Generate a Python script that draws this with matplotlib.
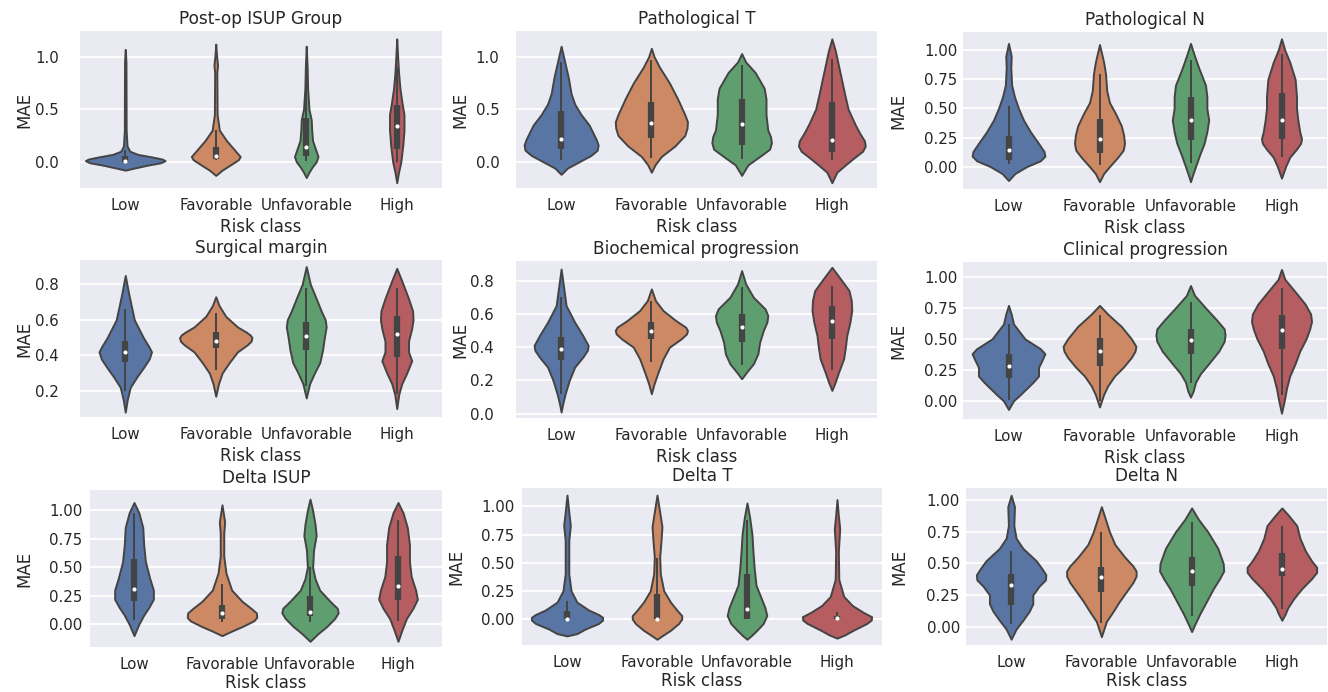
import matplotlib
matplotlib.use('Agg')
import matplotlib.pyplot as plt
from matplotlib.ticker import MultipleLocator

classes = ['Low', 'Favorable', 'Unfavorable', 'High']
titles = ['Post-op ISUP Group', 'Pathological T', 'Pathological N',
          'Surgical margin', 'Biochemical progression', 'Clinical progression',
          'Delta ISUP', 'Delta T', 'Delta N']

# violin outlines per risk class, as (MAE, half width) pairs
isup_shapes = [
    [(-0.08, 0), (-0.06, 0.10), (-0.03, 0.26), (-0.01, 0.39), (0.01, 0.44), (0.025, 0.41), (0.045, 0.30),
     (0.07, 0.14), (0.1, 0.05), (0.15, 0.02), (0.3, 0.01), (0.95, 0.008), (1.07, 0)],
    [(-0.13, 0), (-0.08, 0.07), (-0.02, 0.18), (0.02, 0.25), (0.05, 0.27), (0.1, 0.22), (0.2, 0.12),
     (0.3, 0.04), (0.45, 0.015), (0.85, 0.012), (0.92, 0.02), (1.0, 0.01), (1.12, 0)],
    [(-0.15, 0), (-0.1, 0.03), (-0.05, 0.066), (0.0, 0.11), (0.05, 0.13), (0.1, 0.11), (0.2, 0.07),
     (0.3, 0.06), (0.4, 0.055), (0.5, 0.03), (0.7, 0.015), (0.9, 0.01), (1.1, 0)],
    [(-0.2, 0), (-0.1, 0.02), (0.0, 0.045), (0.15, 0.066), (0.3, 0.08), (0.45, 0.08), (0.55, 0.06),
     (0.7, 0.035), (0.85, 0.02), (1.0, 0.01), (1.17, 0)],
]
patt_shapes = [
    [(-0.12, 0), (-0.06, 0.07), (0.0, 0.2), (0.06, 0.33), (0.11, 0.40), (0.16, 0.41), (0.21, 0.39),
     (0.28, 0.35), (0.35, 0.31), (0.45, 0.22), (0.55, 0.15), (0.65, 0.11), (0.8, 0.08), (0.95, 0.04),
     (1.1, 0)],
    [(-0.1, 0), (-0.03, 0.04), (0.05, 0.11), (0.15, 0.26), (0.25, 0.37), (0.32, 0.395), (0.38, 0.40),
     (0.45, 0.37), (0.6, 0.29), (0.75, 0.2), (0.9, 0.09), (1.0, 0.03), (1.08, 0)],
    [(-0.13, 0), (-0.03, 0.07), (0.05, 0.2), (0.12, 0.31), (0.18, 0.33), (0.24, 0.32), (0.3, 0.29),
     (0.45, 0.27), (0.6, 0.27), (0.7, 0.25), (0.85, 0.15), (0.95, 0.045), (1.03, 0)],
    [(-0.2, 0), (-0.1, 0.055), (-0.03, 0.15), (0.04, 0.25), (0.1, 0.34), (0.15, 0.37), (0.2, 0.36),
     (0.27, 0.31), (0.35, 0.26), (0.5, 0.18), (0.65, 0.14), (0.85, 0.09), (1.05, 0.04), (1.17, 0)],
]
patn_shapes = [
    [(-0.12, 0), (-0.06, 0.07), (0.0, 0.2), (0.05, 0.35), (0.09, 0.40), (0.13, 0.39), (0.2, 0.33),
     (0.3, 0.24), (0.4, 0.165), (0.5, 0.11), (0.6, 0.066), (0.7, 0.035), (0.85, 0.025), (0.95, 0.03),
     (1.06, 0)],
    [(-0.13, 0), (-0.06, 0.045), (0.0, 0.11), (0.08, 0.2), (0.14, 0.26), (0.2, 0.275), (0.27, 0.265),
     (0.35, 0.24), (0.45, 0.18), (0.55, 0.11), (0.65, 0.08), (0.8, 0.066), (0.9, 0.045), (1.05, 0)],
    [(-0.13, 0), (-0.08, 0.02), (0.0, 0.055), (0.1, 0.1), (0.2, 0.15), (0.3, 0.18), (0.4, 0.2),
     (0.5, 0.18), (0.6, 0.18), (0.7, 0.165), (0.85, 0.09), (0.95, 0.045), (1.06, 0)],
    [(-0.1, 0), (0.0, 0.045), (0.08, 0.09), (0.15, 0.165), (0.2, 0.21), (0.24, 0.22), (0.3, 0.2),
     (0.4, 0.18), (0.5, 0.165), (0.6, 0.165), (0.75, 0.15), (0.9, 0.09), (1.0, 0.037), (1.1, 0)],
]
margin_shapes = [
    [(0.08, 0), (0.15, 0.022), (0.22, 0.055), (0.28, 0.13), (0.33, 0.2), (0.38, 0.265), (0.42, 0.29),
     (0.45, 0.26), (0.5, 0.2), (0.55, 0.15), (0.6, 0.1), (0.68, 0.066), (0.75, 0.037), (0.85, 0)],
    [(0.17, 0), (0.24, 0.03), (0.3, 0.07), (0.36, 0.15), (0.42, 0.24), (0.46, 0.35), (0.48, 0.39),
     (0.5, 0.40), (0.515, 0.38), (0.53, 0.34), (0.56, 0.24), (0.62, 0.11), (0.68, 0.037), (0.73, 0)],
    [(0.16, 0), (0.24, 0.037), (0.3, 0.09), (0.36, 0.15), (0.43, 0.18), (0.5, 0.2), (0.56, 0.22),
     (0.6, 0.21), (0.65, 0.165), (0.72, 0.11), (0.8, 0.045), (0.9, 0)],
    [(0.1, 0), (0.18, 0.022), (0.24, 0.055), (0.3, 0.11), (0.37, 0.165), (0.42, 0.13), (0.48, 0.13),
     (0.55, 0.165), (0.6, 0.18), (0.65, 0.175), (0.72, 0.13), (0.82, 0.055), (0.89, 0)],
]
bcr_shapes = [
    [(0.01, 0), (0.06, 0.018), (0.12, 0.045), (0.2, 0.09), (0.28, 0.15), (0.34, 0.24), (0.38, 0.29),
     (0.41, 0.30), (0.47, 0.24), (0.55, 0.15), (0.65, 0.055), (0.75, 0.03), (0.87, 0)],
    [(0.12, 0), (0.18, 0.03), (0.25, 0.075), (0.33, 0.13), (0.4, 0.2), (0.45, 0.33), (0.48, 0.39),
     (0.5, 0.40), (0.52, 0.38), (0.56, 0.27), (0.62, 0.13), (0.68, 0.045), (0.75, 0)],
    [(0.21, 0), (0.25, 0.055), (0.3, 0.13), (0.36, 0.18), (0.43, 0.2), (0.5, 0.24), (0.55, 0.28),
     (0.59, 0.29), (0.63, 0.26), (0.7, 0.13), (0.78, 0.045), (0.86, 0)],
    [(0.14, 0), (0.19, 0.037), (0.25, 0.075), (0.33, 0.13), (0.4, 0.15), (0.47, 0.165), (0.55, 0.2),
     (0.62, 0.22), (0.68, 0.215), (0.74, 0.19), (0.8, 0.11), (0.88, 0)],
]
clin_shapes = [
    [(-0.07, 0), (0.0, 0.055), (0.05, 0.13), (0.1, 0.2), (0.15, 0.27), (0.2, 0.33), (0.27, 0.33),
     (0.33, 0.37), (0.38, 0.40), (0.42, 0.35), (0.5, 0.18), (0.62, 0.055), (0.7, 0.03), (0.77, 0)],
    [(-0.05, 0), (0.05, 0.045), (0.12, 0.09), (0.2, 0.165), (0.27, 0.26), (0.35, 0.35), (0.4, 0.39),
     (0.44, 0.40), (0.5, 0.35), (0.6, 0.24), (0.7, 0.09), (0.77, 0)],
    [(0.03, 0), (0.08, 0.03), (0.15, 0.055), (0.22, 0.11), (0.3, 0.2), (0.4, 0.31), (0.48, 0.37),
     (0.53, 0.38), (0.58, 0.37), (0.65, 0.29), (0.75, 0.165), (0.85, 0.045), (0.93, 0)],
    [(-0.1, 0), (0.0, 0.03), (0.1, 0.055), (0.2, 0.09), (0.3, 0.15), (0.4, 0.2), (0.5, 0.27),
     (0.58, 0.31), (0.64, 0.33), (0.7, 0.32), (0.78, 0.26), (0.88, 0.15), (0.98, 0.037), (1.06, 0)],
]
disup_shapes = [
    [(-0.1, 0), (0.0, 0.055), (0.08, 0.11), (0.15, 0.17), (0.22, 0.22), (0.3, 0.22), (0.4, 0.18),
     (0.55, 0.13), (0.7, 0.11), (0.85, 0.1), (0.98, 0.055), (1.07, 0)],
    [(-0.1, 0), (-0.06, 0.11), (-0.02, 0.23), (0.03, 0.36), (0.06, 0.395), (0.1, 0.39), (0.14, 0.33),
     (0.2, 0.23), (0.3, 0.11), (0.45, 0.045), (0.6, 0.02), (0.8, 0.02), (0.9, 0.03), (1.05, 0)],
    [(-0.15, 0), (-0.08, 0.095), (-0.02, 0.19), (0.05, 0.28), (0.1, 0.32), (0.14, 0.31), (0.2, 0.23),
     (0.3, 0.11), (0.4, 0.057), (0.5, 0.03), (0.65, 0.04), (0.78, 0.07), (0.88, 0.057), (1.0, 0.03),
     (1.1, 0)],
    [(-0.15, 0), (-0.05, 0.045), (0.05, 0.095), (0.14, 0.17), (0.22, 0.22), (0.3, 0.2), (0.42, 0.15),
     (0.55, 0.13), (0.7, 0.13), (0.85, 0.106), (0.98, 0.057), (1.07, 0)],
]
dt_shapes = [
    [(-0.15, 0), (-0.13, 0.11), (-0.09, 0.2), (-0.04, 0.35), (-0.01, 0.395), (0.015, 0.395), (0.04, 0.35),
     (0.08, 0.24), (0.15, 0.11), (0.25, 0.045), (0.4, 0.02), (0.7, 0.02), (0.83, 0.037), (0.95, 0.02),
     (1.1, 0)],
    [(-0.18, 0), (-0.15, 0.055), (-0.1, 0.15), (-0.04, 0.24), (0.0, 0.275), (0.03, 0.275), (0.08, 0.22),
     (0.15, 0.15), (0.25, 0.075), (0.4, 0.037), (0.55, 0.03), (0.7, 0.045), (0.82, 0.055), (0.95, 0.03),
     (1.1, 0)],
    [(-0.18, 0), (-0.15, 0.045), (-0.1, 0.11), (-0.04, 0.18), (0.03, 0.22), (0.1, 0.2), (0.2, 0.15),
     (0.3, 0.1), (0.45, 0.08), (0.6, 0.066), (0.75, 0.055), (0.9, 0.03), (1.03, 0)],
    [(-0.17, 0), (-0.14, 0.09), (-0.1, 0.18), (-0.04, 0.33), (-0.01, 0.38), (0.02, 0.385), (0.06, 0.29),
     (0.12, 0.17), (0.2, 0.075), (0.35, 0.02), (0.6, 0.015), (0.8, 0.03), (0.92, 0.015), (1.06, 0)],
]
dn_shapes = [
    [(-0.1, 0), (-0.02, 0.055), (0.05, 0.13), (0.12, 0.2), (0.18, 0.24), (0.25, 0.24), (0.32, 0.31),
     (0.37, 0.38), (0.41, 0.385), (0.45, 0.35), (0.52, 0.28), (0.62, 0.13), (0.7, 0.055), (0.8, 0.03),
     (0.95, 0.037), (1.04, 0)],
    [(-0.08, 0), (0.04, 0.055), (0.12, 0.13), (0.2, 0.2), (0.28, 0.28), (0.35, 0.35), (0.4, 0.385),
     (0.44, 0.385), (0.48, 0.35), (0.55, 0.26), (0.65, 0.15), (0.75, 0.09), (0.85, 0.045), (0.95, 0)],
    [(-0.04, 0), (0.02, 0.037), (0.1, 0.09), (0.2, 0.165), (0.3, 0.24), (0.38, 0.31), (0.44, 0.355),
     (0.5, 0.35), (0.62, 0.29), (0.75, 0.18), (0.85, 0.075), (0.94, 0)],
    [(0.05, 0), (0.1, 0.037), (0.15, 0.066), (0.22, 0.13), (0.3, 0.22), (0.38, 0.33), (0.43, 0.385),
     (0.47, 0.385), (0.52, 0.33), (0.6, 0.26), (0.7, 0.2), (0.8, 0.165), (0.88, 0.075), (0.94, 0)],
]

# inner box per class: (lower whisker, q1, median, q3, upper whisker)
isup_boxes = [(0.0, 0.0, 0.01, 0.05, 0.11), (0.02, 0.03, 0.05, 0.14, 0.3),
              (0.01, 0.05, 0.14, 0.42, 0.9), (0.0, 0.12, 0.34, 0.54, 0.9)]
patt_boxes = [(0.02, 0.12, 0.22, 0.48, 0.95), (0.04, 0.23, 0.37, 0.57, 0.97),
              (0.03, 0.16, 0.36, 0.6, 0.92), (0.02, 0.09, 0.21, 0.57, 0.98)]
patn_boxes = [(0.02, 0.06, 0.14, 0.26, 0.52), (0.01, 0.12, 0.24, 0.41, 0.8),
              (0.03, 0.23, 0.4, 0.6, 0.92), (0.08, 0.24, 0.4, 0.63, 0.97)]
margin_boxes = [(0.2, 0.36, 0.42, 0.48, 0.66), (0.32, 0.44, 0.48, 0.53, 0.64),
                (0.23, 0.43, 0.51, 0.59, 0.78), (0.18, 0.39, 0.52, 0.62, 0.78)]
bcr_boxes = [(0.12, 0.32, 0.39, 0.46, 0.7), (0.31, 0.45, 0.5, 0.55, 0.68),
             (0.29, 0.43, 0.52, 0.6, 0.76), (0.26, 0.45, 0.56, 0.65, 0.77)]
clin_boxes = [(0.01, 0.18, 0.28, 0.38, 0.62), (0.0, 0.28, 0.4, 0.51, 0.69),
              (0.14, 0.38, 0.49, 0.58, 0.8), (0.05, 0.42, 0.57, 0.69, 0.91)]
disup_boxes = [(0.04, 0.2, 0.31, 0.57, 0.98), (0.02, 0.05, 0.1, 0.17, 0.35),
               (0.02, 0.07, 0.11, 0.25, 0.5), (0.03, 0.21, 0.34, 0.6, 0.92)]
dt_boxes = [(0.0, 0.0, 0.0, 0.07, 0.16), (0.0, 0.0, 0.0, 0.22, 0.54),
            (0.0, 0.0, 0.09, 0.4, 0.88), (0.0, 0.0, 0.01, 0.03, 0.06)]
dn_boxes = [(0.02, 0.17, 0.33, 0.42, 0.6), (0.03, 0.27, 0.39, 0.47, 0.75),
            (0.08, 0.32, 0.44, 0.55, 0.83), (0.14, 0.4, 0.46, 0.58, 0.8)]

shapes = [isup_shapes, patt_shapes, patn_shapes, margin_shapes, bcr_shapes,
          clin_shapes, disup_shapes, dt_shapes, dn_shapes]
boxes = [isup_boxes, patt_boxes, patn_boxes, margin_boxes, bcr_boxes,
         clin_boxes, disup_boxes, dt_boxes, dn_boxes]

# layout: axes boxes in pixels (left, top, right, bottom)
axes_px = [(80, 31, 442, 188), (516, 31, 877, 188), (963, 32, 1327, 189),
           (80, 260, 442, 417), (516, 261, 877, 418), (963, 262, 1327, 419),
           (90, 490, 442, 647), (522, 488, 882, 645), (966, 488, 1327, 645)]
ylims = [(-0.25, 1.245), (-0.25, 1.245), (-0.193, 1.158),
         (0.053, 0.937), (-0.026, 0.918), (-0.147, 1.12),
         (-0.2, 1.18), (-0.231, 1.163), (-0.146, 1.098)]
ysteps = [0.5, 0.5, 0.25, 0.2, 0.2, 0.25, 0.25, 0.25, 0.25]
ytick_pad = [15, 12, 4, 15, 16, 4, 5.5, 5.5, 4.5]
ylabel_gap = [47, 47, 56, 47, 47, 56, 57, 57, 58]
xlabel_gap = [30, 30, 30, 30, 30, 30, 27, 27, 27]

colors = ['#5875A4', '#CC8963', '#5F9E6E', '#B55D60']
gray = '#444444'
text_col = '#262626'

W, H = 1328, 692
fig = plt.figure(figsize=(W / 100, H / 100), dpi=100)

for i in range(9):
    l, t, r, b = axes_px[i]
    ax = fig.add_axes([l / W, 1 - b / H, (r - l) / W, (b - t) / H])
    ax.set_facecolor('#EAEAF2')
    for s in ax.spines.values():
        s.set_visible(False)
    ax.yaxis.grid(True, color='white', lw=1.3)
    ax.set_axisbelow(True)

    for j in range(4):
        ys = [p[0] for p in shapes[i][j]]
        ws = [p[1] for p in shapes[i][j]]
        ax.fill_betweenx(ys, [j - w for w in ws], [j + w for w in ws],
                         facecolor=colors[j], edgecolor=gray, lw=1.4,
                         joinstyle='round', zorder=2)
        lo, q1, med, q3, hi = boxes[i][j]
        ax.plot([j, j], [lo, hi], color=gray, lw=1.4, solid_capstyle='butt', zorder=3)
        ax.plot([j, j], [q1, q3], color=gray, lw=4.5, solid_capstyle='butt', zorder=3)
        ax.scatter([j], [med], s=9, color='white', linewidths=0, zorder=4)

    ax.set_xlim(-0.5, 3.5)
    ax.set_ylim(*ylims[i])
    ax.yaxis.set_major_locator(MultipleLocator(ysteps[i]))
    ax.set_xticks(range(4))
    ax.set_xticklabels(classes)
    ax.tick_params(axis='x', length=0, pad=7, labelsize=10.8, labelcolor=text_col)
    ax.tick_params(axis='y', length=0, pad=ytick_pad[i], labelsize=10.8, labelcolor=text_col)

    ax.set_title(titles[i], fontsize=12.2, color=text_col, pad=5)
    ax.set_xlabel('Risk class', fontsize=12, color=text_col)
    ax.xaxis.set_label_coords(0.5, -xlabel_gap[i] / (b - t))
    ax.set_ylabel('MAE', fontsize=12, color=text_col)
    ax.yaxis.set_label_coords(-ylabel_gap[i] / (r - l), 0.5)

fig.savefig('out.png', dpi=100)
